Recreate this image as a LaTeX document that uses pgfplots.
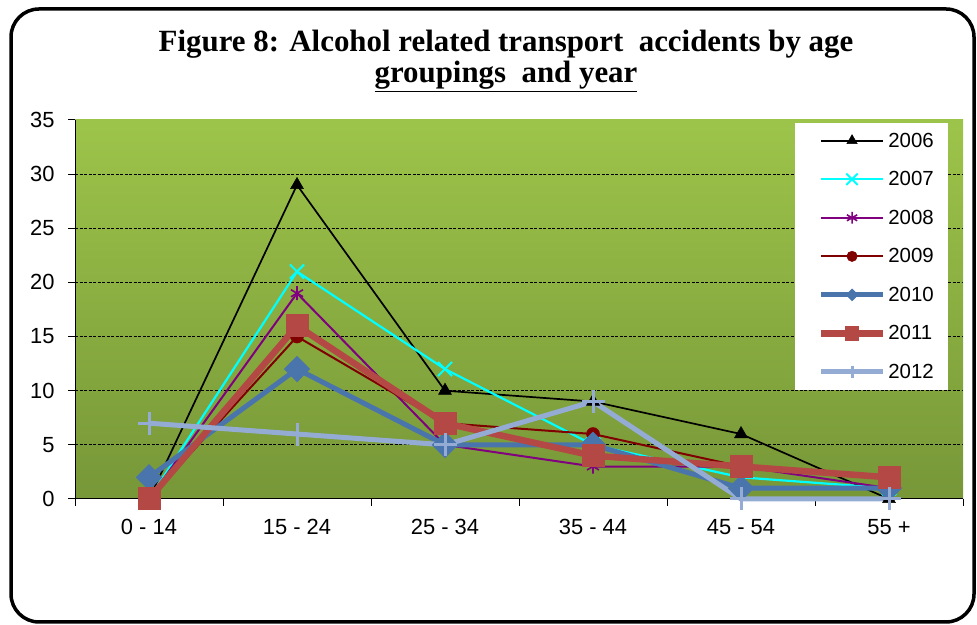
\documentclass[border=0pt]{standalone}
\usepackage{pgfplots}
\pgfplotsset{compat=1.18}
\usepackage{fontspec}
\setmainfont{Liberation Sans}
\newfontfamily\titlefont{Liberation Serif}
\definecolor{c2006}{RGB}{0,0,0}
\definecolor{c2007}{RGB}{0,255,255}
\definecolor{c2008}{RGB}{128,0,128}
\definecolor{c2009}{RGB}{128,0,0}
\definecolor{c2010}{RGB}{73,117,172}
\definecolor{c2011}{RGB}{180,72,68}
\definecolor{c2012}{RGB}{148,172,212}
\definecolor{bgtop}{RGB}{157,196,74}
\definecolor{bgbot}{RGB}{119,151,56}
\pgfplotsset{legmark/.initial=0.8}
\begin{document}
\begin{tikzpicture}[x=1bp,y=1bp]
\useasboundingbox (0,0) rectangle (977,625);
\draw[line width=3.5bp, rounded corners=28bp] (11,3) rectangle (974,616);
\node[font=\titlefont\bfseries\fontsize{31}{36}\selectfont, anchor=base] at (506,573) {Figure 8: Alcohol related transport\ \ accidents by age};
\node[font=\titlefont\bfseries\fontsize{31}{36}\selectfont, anchor=base] at (506,542) {\underline{groupings\ \ and\ year}};
\begin{axis}[
  at={(75bp,126bp)}, anchor=south west,
  scale only axis, width=888bp, height=379bp,
  xmin=-0.5, xmax=5.5, ymin=0, ymax=35,
  clip=false,
  axis lines*=left,
  axis line style={black, line width=1bp},
  axis background/.style={top color=bgtop, bottom color=bgbot},
  tick align=outside, major tick length=7bp,
  tick style={black, line width=1bp},
  xtick={-0.5,0.5,1.5,2.5,3.5,4.5,5.5}, xticklabels={},
  extra x ticks={0,1,2,3,4,5},
  extra x tick labels={0 - 14,15 - 24,25 - 34,35 - 44,45 - 54,55 +},
  extra x tick style={major tick length=0pt},
  ytick={0,5,...,35},
  extra y ticks={5,10,15,20,25,30},
  extra y tick labels={},
  extra y tick style={major tick length=0pt, ymajorgrids=true},
  grid style={black, dashed, line width=0.9bp, dash pattern=on 3bp off 1.5bp},
  /pgf/number format/assume math mode=true,
  tick label style={font=\fontsize{22}{26}\selectfont},
  yticklabel style={xshift=-10bp},
  xticklabel style={yshift=-17bp},
  legend cell align=left,
  legend style={at={(0.983,0.993)}, anchor=north east, draw=none, fill=white,
    font=\fontsize{20.5}{24}\selectfont, row sep=18.8bp, inner xsep=12bp, inner ysep=8bp,
    /tikz/every even column/.append style={column sep=4bp}},
  legend image code/.code={\path (0bp,0bp); \draw[mark repeat=2,mark phase=2,every mark/.append style={scale=\pgfkeysvalueof{/pgfplots/legmark}}] plot coordinates {(11bp,0bp) (42bp,0bp) (73bp,0bp)};},
]
\addplot[c2006, line width=1.7bp, mark=triangle*, mark size=7.5bp, legmark=0.8, mark options={solid,fill=black,line width=0.5bp}] coordinates {(0,0) (1,29) (2,10) (3,9) (4,6) (5,0)};
\addlegendentry{2006}
\addplot[c2007, line width=2.2bp, mark=x, mark size=10bp, legmark=0.8, mark options={solid,line width=2bp}] coordinates {(0,0) (1,21) (2,12) (3,5) (4,2) (5,1)};
\addlegendentry{2007}
\addplot[c2008, line width=2bp, mark=asterisk, mark size=7bp, legmark=0.85, mark options={solid,line width=1.6bp}] coordinates {(0,0) (1,19) (2,5) (3,3) (4,3) (5,1)};
\addlegendentry{2008}
\addplot[c2009, line width=2bp, mark=*, mark size=6.5bp, legmark=0.8, mark options={solid,fill=c2009,line width=0.5bp}] coordinates {(0,0) (1,15) (2,7) (3,6) (4,3) (5,2)};
\addlegendentry{2009}
\addplot[c2010, line width=5bp, mark=diamond*, mark size=12.5bp, legmark=0.45, mark options={solid,fill=c2010,line width=1bp,xscale=1.33}] coordinates {(0,2) (1,12) (2,5) (3,5) (4,1) (5,1)};
\addlegendentry{2010}
\addplot[c2011, line width=6.5bp, mark=square*, mark size=11bp, legmark=0.6, mark options={solid,fill=c2011,line width=1bp}] coordinates {(0,0) (1,16) (2,7) (3,4) (4,3) (5,2)};
\addlegendentry{2011}
\addplot[c2012, line width=5bp, mark=+, mark size=11.5bp, legmark=0.55, mark options={solid,line width=3bp}] coordinates {(0,7) (1,6) (2,5) (3,9) (4,0) (5,0)};
\addlegendentry{2012}
\end{axis}
\end{tikzpicture}
\end{document}
